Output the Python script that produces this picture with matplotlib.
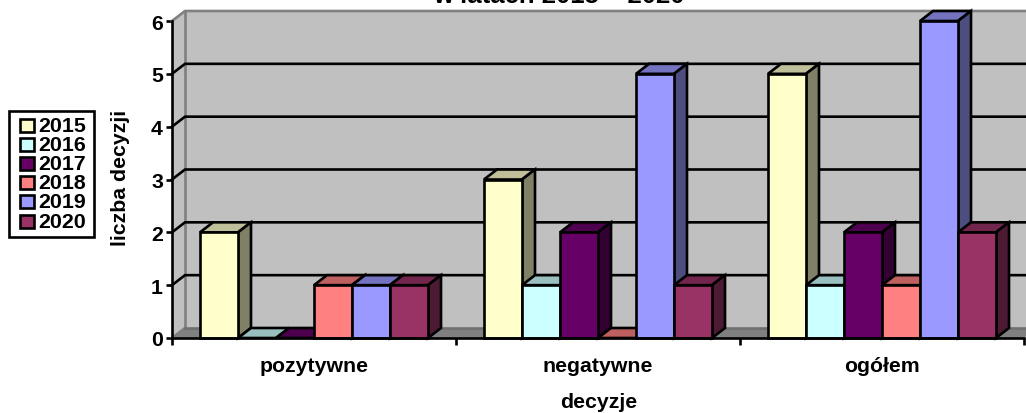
import matplotlib
matplotlib.use('Agg')
import matplotlib.pyplot as plt
from matplotlib.patches import Rectangle
import numpy as np

plt.rcParams['font.family'] = ['Liberation Sans', 'DejaVu Sans']
plt.rcParams['font.weight'] = 'bold'

categories = ['pozytywne', 'negatywne', 'ogółem']
years = ['2015', '2016', '2017', '2018', '2019', '2020']
values_2015 = [2, 3, 5]
values_2016 = [0, 1, 1]
values_2017 = [0, 2, 2]
values_2018 = [1, 0, 1]
values_2019 = [1, 5, 6]
values_2020 = [1, 1, 2]
y_ticks = [0, 1, 2, 3, 4, 5, 6]

series = [values_2015, values_2016, values_2017, values_2018, values_2019, values_2020]
colors = ['#FFFFCC', '#CCFFFF', '#660066', '#FF8080', '#9999FF', '#993366']

W, H = 1026, 414
fig = plt.figure(figsize=(W / 100, H / 100), dpi=100, facecolor='white')
# plot box in pixels: x 172-1024, y 22-339
ax = fig.add_axes([172 / W, (H - 339) / H, 852 / W, 317 / H])
ax.set_xlim(0, 3)
ax.set_ylim(0, 6)
ax.patch.set_visible(False)

# depth of the fake 3d box, in data units
px_x = 3 / 852
px_y = 6 / 317
dx = 13 * px_x
dy = 10 * px_y
LW = 1.9
FS = 15.3


def shade(color, f):
    rgb = np.array(matplotlib.colors.to_rgb(color))
    return tuple(rgb * f)


# walls and floor
ax.fill([dx, 3 + dx, 3 + dx, dx], [dy, dy, 6 + dy, 6 + dy], color='#C0C0C0', lw=0, clip_on=False, zorder=1)
ax.fill([0, dx, dx, 0], [0, dy, 6 + dy, 6], color='#C0C0C0', lw=0, clip_on=False, zorder=1)
ax.fill([0, dx, 3 + dx, 3], [0, dy, dy, 0], color='#808080', lw=0, clip_on=False, zorder=1)
ax.plot([dx, dx], [dy, 6 + dy], color='#808080', lw=LW, clip_on=False, zorder=2)
ax.plot([0, dx, 3 + dx], [6, 6 + dy, 6 + dy], color='#808080', lw=LW, clip_on=False, zorder=2)
ax.plot([0, dx], [0, dy], color='#808080', lw=LW, clip_on=False, zorder=2)

# grid lines on the walls
for v in y_ticks[1:-1]:
    ax.plot([0, dx, 3 + dx], [v, v + dy, v + dy], color='black', lw=LW, clip_on=False, zorder=2)
ax.plot([dx, 3 + dx], [dy, dy], color='#707070', lw=LW, clip_on=False, zorder=2)

# bars
gap = 28 * px_x
bar_w = (1 - 2 * gap) / len(series)
z = 3
for c in range(len(categories)):
    for s, vals in enumerate(series):
        x0 = c + gap + s * bar_w
        x1 = x0 + bar_w
        v = vals[c]
        col = colors[s]
        edge = dict(edgecolor='black', lw=LW, joinstyle='miter', clip_on=False, zorder=z)
        ax.fill([x0, x0 + dx, x1 + dx, x1], [v, v + dy, v + dy, v], facecolor=shade(col, 0.75), **edge)
        if v > 0:
            ax.fill([x1, x1 + dx, x1 + dx, x1], [0, dy, v + dy, v], facecolor=shade(col, 0.5), **edge)
            ax.fill([x0, x1, x1, x0], [0, 0, v, v], facecolor=col, **edge)
        z += 1

# axes
for side in ['top', 'right']:
    ax.spines[side].set_visible(False)
for side in ['left', 'bottom']:
    ax.spines[side].set_linewidth(LW)
    ax.spines[side].set_zorder(50)
ax.set_yticks(y_ticks)
ax.tick_params(axis='y', length=4.5, width=LW, labelsize=FS, pad=2, zorder=50)
ax.set_xticks([0, 1, 2, 3])
ax.set_xticklabels([])
ax.set_xticks([0.5, 1.5, 2.5], labels=categories, minor=True)
ax.tick_params(axis='x', which='major', length=5, width=LW, zorder=50)
ax.tick_params(axis='x', which='minor', length=0, labelsize=FS, pad=13)

# titles
fig.text(559 / W, 1 - 3 / H, 'w latach 2015 – 2020', ha='center', va='baseline', fontsize=18.5)
fig.text(599 / W, 1 - 403 / H, 'decyzje', ha='center', va='center', fontsize=FS)
fig.text(121 / W, 1 - 178 / H, 'liczba decyzji', rotation=90, ha='center', va='center', fontsize=FS)

# legend box, laid out by hand to sit like the original
fig.add_artist(Rectangle((9 / W, 1 - 237.5 / H), 85 / W, 126 / H, transform=fig.transFigure,
                         facecolor='white', edgecolor='black', lw=LW))
for i, (year, col) in enumerate(zip(years, colors)):
    yc = 126.5 + i * 19.1
    fig.add_artist(Rectangle((20 / W, 1 - (yc + 6.5) / H), 13.5 / W, 13 / H, transform=fig.transFigure,
                             facecolor=col, edgecolor='black', lw=LW))
    fig.text(38.5 / W, 1 - yc / H, year, ha='left', va='center', fontsize=15.4)

fig.savefig('out.png', dpi=100)
